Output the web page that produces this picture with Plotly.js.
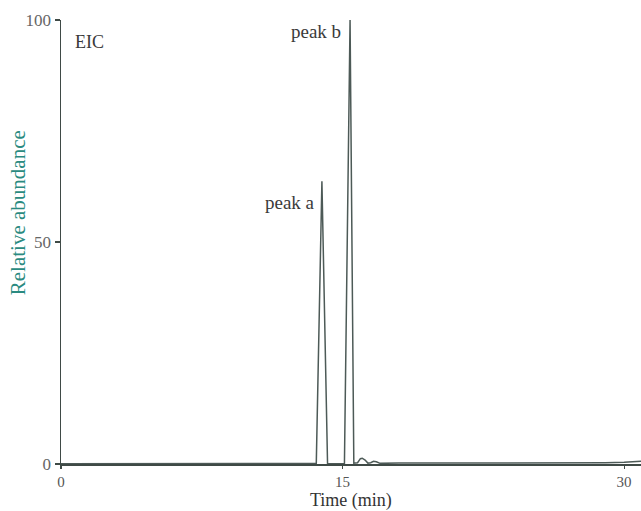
<!DOCTYPE html>
<html>
<head>
<meta charset="utf-8">
<script src="https://cdn.plot.ly/plotly-3.0.1.min.js"></script>
<style>html,body{margin:0;padding:0;background:#fff;}#chart{width:641px;height:511px;}</style>
</head>
<body>
<div id="chart"></div>
<script>
// Retention time (min)
var timeMin = [0, 1, 2, 3, 4, 5, 6, 7, 8, 9, 10, 11, 12, 13, 13.4, 13.6, 13.9, 14.2, 14.5, 14.8, 15.1, 15.4, 15.6, 15.8, 15.95, 16.05, 16.2, 16.35, 16.5, 16.65, 16.8, 17.0, 17.5, 18, 20, 22, 24, 26, 28, 29, 30, 30.9];
// Relative abundance (%)
var abundance = [0.05, 0.05, 0.1, 0.05, 0.1, 0.05, 0.1, 0.1, 0.05, 0.05, 0.05, 0.05, 0.05, 0.05, 0.05, 0.1, 63.7, 0.1, 0.05, 0.05, 0.1, 100, 0.2, 0.3, 1.2, 1.3, 0.9, 0.2, 0.3, 0.6, 0.5, 0.15, 0.2, 0.2, 0.2, 0.2, 0.2, 0.2, 0.25, 0.3, 0.4, 0.6];
var xTicks = [0, 15, 30];
var yTicks = [0, 50, 100];
var labels = ["EIC", "peak a", "peak b"];
var labelX = [0.65, 13.62, 15.0];
var labelY = [95.0, 58.8, 97.5];
var labelSize = [18, 19, 19];
var xTitle = 'Time (min)';
var yTitle = 'Relative abundance';

var serif = 'Liberation Serif, Times New Roman, serif';

var trace = {
  x: timeMin, y: abundance, type: 'scatter', mode: 'lines',
  line: {color: '#4d5a57', width: 1.5}, hoverinfo: 'skip'
};

var annotations = labels.map(function(t, i){
  return {x: labelX[i], y: labelY[i], xref: 'x', yref: 'y', text: t, showarrow: false,
    xanchor: i === 0 ? 'left' : 'right', yanchor: 'middle',
    font: {family: serif, size: labelSize[i], color: '#3a3a3a'}};
});
annotations.push({x: 0.5, y: -0.109, xref: 'paper', yref: 'paper', text: xTitle, showarrow: false,
  xanchor: 'center', yanchor: 'bottom', borderpad: 0, font: {family: serif, size: 18, color: '#333'}});
annotations.push({x: -0.074, y: 0.565, xref: 'paper', yref: 'paper', text: yTitle, showarrow: false,
  textangle: -90, xanchor: 'center', yanchor: 'middle', font: {family: serif, size: 21, color: '#2a8a80'}});

var layout = {
  width: 641, height: 511,
  margin: {l: 61, r: 0, t: 20, b: 47},
  paper_bgcolor: '#fff', plot_bgcolor: '#fff',
  showlegend: false,
  font: {family: serif, size: 17, color: '#555'},
  xaxis: {
    range: [0, 30.9], tickvals: xTicks, ticktext: xTicks.map(String),
    showline: true, linecolor: '#3f4a46', linewidth: 1.5, zeroline: false, showgrid: false,
    ticks: 'outside', ticklen: 3, tickcolor: '#3f4a46', tickwidth: 1.2,
    tickfont: {size: 15, color: '#555'}
  },
  yaxis: {
    range: [0, 100], tickvals: yTicks, ticktext: yTicks.map(String),
    showline: true, linecolor: '#3f4a46', linewidth: 1.5, zeroline: false, showgrid: false,
    ticks: 'outside', ticklen: 5, tickcolor: '#3f4a46', tickwidth: 1.2,
    tickfont: {size: 17, color: '#666'}
  },
  annotations: annotations
};

Plotly.newPlot('chart', [trace], layout, {displayModeBar: false, staticPlot: true});
</script>
</body>
</html>
